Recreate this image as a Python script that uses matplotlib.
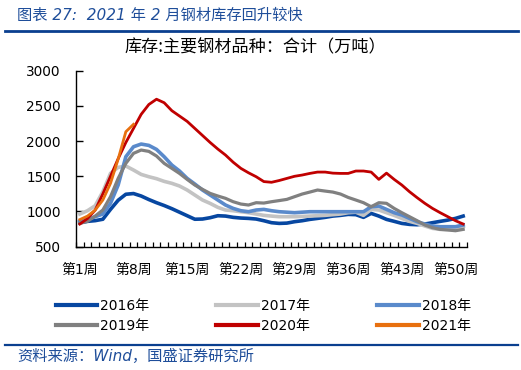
import matplotlib
matplotlib.use("Agg")
import matplotlib.pyplot as plt
import numpy as np

plt.rcParams['font.family'] = ['DejaVu Sans', 'Noto Sans CJK SC']

weeks = np.arange(1, 52)
week_labels = ['第1周', '第8周', '第15周', '第22周', '第29周', '第36周', '第43周', '第50周']

y2016 = [840, 860, 870, 890, 1030, 1160, 1245, 1255, 1220, 1170, 1125, 1085, 1040, 990, 940, 890,
         893, 912, 940, 935, 917, 907, 902, 893, 869, 841, 831, 835, 855, 869, 888, 902, 917,
         935, 945, 959, 955, 917, 973, 935, 888, 860, 831, 817, 812, 822, 841, 860, 878, 902, 935]
y2017 = [964, 1011, 1082, 1281, 1542, 1627, 1646, 1589, 1527, 1494, 1466, 1428, 1400, 1362,
         1305, 1234, 1163, 1115, 1059, 1021, 1011, 997, 983, 964, 945, 935, 926, 926, 926, 930,
         935, 940, 945, 955, 964, 983, 990, 945, 1030, 1021, 983, 945, 902, 860, 831, 794, 760,
         746, 746, 746, 784]
y2018 = [860, 888, 926, 964, 1116, 1376, 1778, 1920, 1958, 1939, 1882, 1778, 1660, 1575, 1470,
         1390, 1305, 1234, 1163, 1092, 1044, 1011, 997, 1021, 1030, 1011, 997, 990, 983, 990,
         997, 997, 997, 997, 997, 997, 997, 997, 1068, 1077, 1030, 983, 950, 902, 855, 822, 794,
         784, 784, 784, 808]
y2019 = [831, 860, 935, 1021, 1210, 1470, 1684, 1826, 1873, 1854, 1788, 1684, 1613, 1541, 1456,
         1376, 1314, 1257, 1220, 1187, 1139, 1106, 1092, 1125, 1120, 1139, 1155, 1172, 1210,
         1248, 1276, 1305, 1290, 1276, 1248, 1200, 1163, 1125, 1068, 1125, 1116, 1044, 983, 926,
         869, 808, 770, 746, 737, 727, 746]
y2020 = [822, 900, 1020, 1250, 1500, 1750, 1980, 2180, 2380, 2520, 2595, 2545, 2432, 2356, 2280,
         2180, 2080, 1980, 1887, 1802, 1700, 1613, 1550, 1494, 1425, 1415, 1440, 1470, 1500,
         1518, 1541, 1560, 1560, 1545, 1541, 1541, 1575, 1575, 1560, 1456, 1545, 1456, 1376,
         1281, 1196, 1116, 1044, 983, 926, 869, 822]
y2021 = [885, 935, 1020, 1163, 1400, 1745, 2133, 2238]

series = [
    ('2016年', y2016, '#0747A1', 2.6),
    ('2017年', y2017, '#C3C3C3', 2.6),
    ('2018年', y2018, '#5A8ACB', 2.6),
    ('2019年', y2019, '#808080', 2.3),
    ('2020年', y2020, '#C00000', 2.0),
    ('2021年', y2021, '#E8700F', 2.0),
]

fig = plt.figure(figsize=(5.21, 3.70), dpi=100)
ax = fig.add_axes([76/521, 1-246.7/370, (467-76)/521, (246.7-70.7)/370])

handles = {}
for name, vals, col, lw in series:
    line, = ax.plot(weeks[:len(vals)], vals, color=col, lw=lw, label=name,
                    solid_joinstyle='round')
    handles[name] = line

ax.set_xlim(0.5, 51.5)
ax.set_ylim(500, 3000)
ax.set_yticks([500, 1000, 1500, 2000, 2500, 3000])
ax.tick_params(axis='y', direction='in', length=5, width=1, labelsize=9.8, pad=11)
ax.set_xticks(np.arange(0.5, 52, 1))
ax.set_xticklabels([])
ax.tick_params(axis='x', which='major', direction='in', length=3.5, width=0.9)
ax.set_xticks([1, 8, 15, 22, 29, 36, 43, 50], week_labels, minor=True)
ax.tick_params(axis='x', which='minor', length=0, labelsize=10, pad=12)
for s in ['top', 'right']:
    ax.spines[s].set_visible(False)
for s in ['left', 'bottom']:
    ax.spines[s].set_linewidth(1)

fig.text(0.49, 1-47/370, '库存:主要钢材品种：合计（万吨）', ha='center', va='center',
         fontsize=12.3, family=['Noto Sans CJK SC', 'DejaVu Sans'])

order = ['2016年', '2019年', '2017年', '2020年', '2018年', '2021年']
leg = fig.legend([handles[k] for k in order], order, loc='center left',
                 bbox_to_anchor=(43/521, 1-316/370), ncol=3, frameon=False,
                 fontsize=10, handlelength=3.0, handletextpad=0.2,
                 columnspacing=4.85, labelspacing=0.4)
for lh in leg.get_lines():
    lh.set_linewidth(3)

blue = '#1F4E9A'
fig.text(17/521, 1-15/370, '图表 27:  2021 年 2 月钢材库存回升较快', ha='left', va='center',
         fontsize=11, style='italic', color=blue, family=['DejaVu Sans', 'Noto Sans CJK SC'])
fig.text(17/521, 1-356/370, '资料来源：Wind，国盛证券研究所', ha='left', va='center',
         fontsize=11, style='italic', color=blue, family=['DejaVu Sans', 'Noto Sans CJK SC'])
fig.add_artist(plt.Line2D([5/521, 518/521], [1-31/370, 1-31/370], color='#0A3F8F', lw=2))
fig.add_artist(plt.Line2D([5/521, 518/521], [1-345/370, 1-345/370], color='#0A3F8F', lw=1.6))

fig.savefig('out.png', dpi=100)
